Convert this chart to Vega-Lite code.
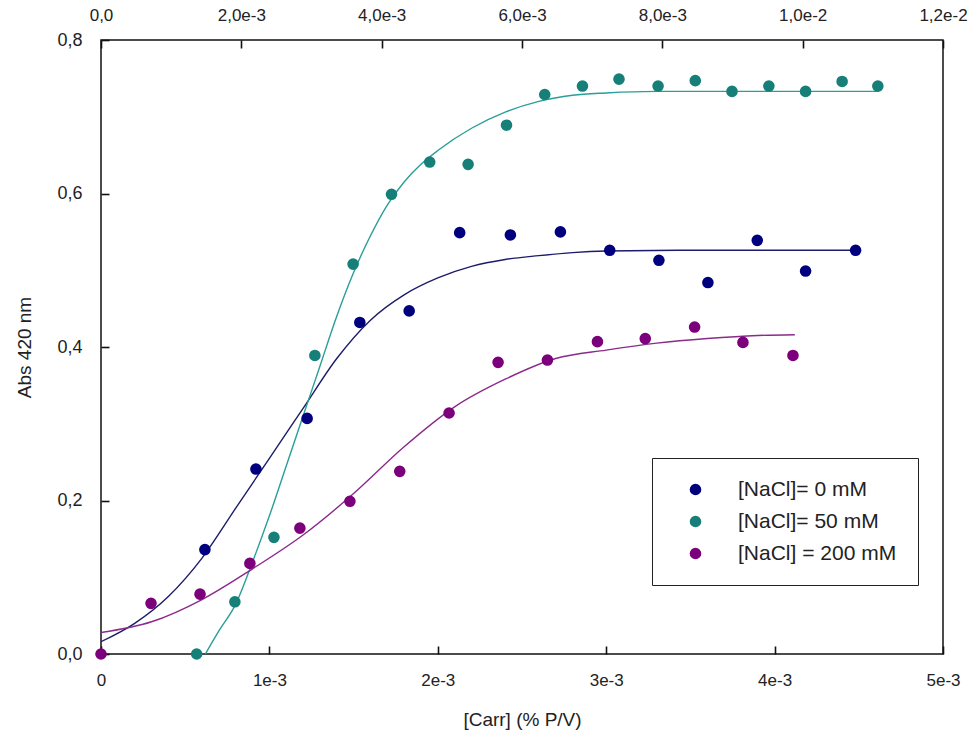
{
  "$schema": "https://vega.github.io/schema/vega-lite/v6.json",
  "width": 842,
  "height": 614,
  "autosize": {"type": "none"},
  "padding": {"left": 101, "top": 40, "right": 30, "bottom": 95},
  "background": "white",
  "config": {
    "view": {"stroke": "#111", "strokeWidth": 1.5},
    "axis": {
      "grid": false,
      "domain": false,
      "ticks": true,
      "offset": -8,
      "tickColor": "#111",
      "tickWidth": 1.6,
      "tickSize": 8,
      "labelFlush": false,
      "labelOverlap": false,
      "labelColor": "#222",
      "titleColor": "#222",
      "labelFont": "Liberation Sans",
      "titleFont": "Liberation Sans",
      "titleFontWeight": "normal",
      "labelFontSize": 17,
      "titleFontSize": 19
    },
    "legend": {
      "labelFont": "Liberation Sans",
      "labelFontSize": 21,
      "labelColor": "#222"
    }
  },
  "datasets": {
    "topaxis": [{"xt": 0}, {"xt": 0.012}],
    "points": [
      {"series": "[NaCl]= 0 mM", "carr": 0.000617, "abs": 0.136},
      {"series": "[NaCl]= 0 mM", "carr": 0.00092, "abs": 0.241},
      {"series": "[NaCl]= 0 mM", "carr": 0.001224, "abs": 0.307},
      {"series": "[NaCl]= 0 mM", "carr": 0.001537, "abs": 0.432},
      {"series": "[NaCl]= 0 mM", "carr": 0.00183, "abs": 0.447},
      {"series": "[NaCl]= 0 mM", "carr": 0.00213, "abs": 0.549},
      {"series": "[NaCl]= 0 mM", "carr": 0.002431, "abs": 0.546},
      {"series": "[NaCl]= 0 mM", "carr": 0.002728, "abs": 0.55},
      {"series": "[NaCl]= 0 mM", "carr": 0.003021, "abs": 0.526},
      {"series": "[NaCl]= 0 mM", "carr": 0.003313, "abs": 0.513},
      {"series": "[NaCl]= 0 mM", "carr": 0.003604, "abs": 0.484},
      {"series": "[NaCl]= 0 mM", "carr": 0.003897, "abs": 0.539},
      {"series": "[NaCl]= 0 mM", "carr": 0.004184, "abs": 0.499},
      {"series": "[NaCl]= 0 mM", "carr": 0.004481, "abs": 0.526},
      {"series": "[NaCl]= 50 mM", "carr": 0.000568, "abs": 0.0},
      {"series": "[NaCl]= 50 mM", "carr": 0.000795, "abs": 0.068},
      {"series": "[NaCl]= 50 mM", "carr": 0.001027, "abs": 0.152},
      {"series": "[NaCl]= 50 mM", "carr": 0.00127, "abs": 0.389},
      {"series": "[NaCl]= 50 mM", "carr": 0.001497, "abs": 0.508},
      {"series": "[NaCl]= 50 mM", "carr": 0.001725, "abs": 0.599},
      {"series": "[NaCl]= 50 mM", "carr": 0.001952, "abs": 0.641},
      {"series": "[NaCl]= 50 mM", "carr": 0.00218, "abs": 0.638},
      {"series": "[NaCl]= 50 mM", "carr": 0.002408, "abs": 0.689},
      {"series": "[NaCl]= 50 mM", "carr": 0.002635, "abs": 0.729},
      {"series": "[NaCl]= 50 mM", "carr": 0.002859, "abs": 0.74},
      {"series": "[NaCl]= 50 mM", "carr": 0.003076, "abs": 0.749},
      {"series": "[NaCl]= 50 mM", "carr": 0.003308, "abs": 0.74},
      {"series": "[NaCl]= 50 mM", "carr": 0.003529, "abs": 0.747},
      {"series": "[NaCl]= 50 mM", "carr": 0.003747, "abs": 0.733},
      {"series": "[NaCl]= 50 mM", "carr": 0.003966, "abs": 0.74},
      {"series": "[NaCl]= 50 mM", "carr": 0.004184, "abs": 0.733},
      {"series": "[NaCl]= 50 mM", "carr": 0.004401, "abs": 0.746},
      {"series": "[NaCl]= 50 mM", "carr": 0.004613, "abs": 0.74},
      {"series": "[NaCl] = 200 mM", "carr": 0.0, "abs": 0.0},
      {"series": "[NaCl] = 200 mM", "carr": 0.000297, "abs": 0.066},
      {"series": "[NaCl] = 200 mM", "carr": 0.000588, "abs": 0.078},
      {"series": "[NaCl] = 200 mM", "carr": 0.000884, "abs": 0.118},
      {"series": "[NaCl] = 200 mM", "carr": 0.001181, "abs": 0.164},
      {"series": "[NaCl] = 200 mM", "carr": 0.001478, "abs": 0.199},
      {"series": "[NaCl] = 200 mM", "carr": 0.001774, "abs": 0.238},
      {"series": "[NaCl] = 200 mM", "carr": 0.002067, "abs": 0.314},
      {"series": "[NaCl] = 200 mM", "carr": 0.002358, "abs": 0.38},
      {"series": "[NaCl] = 200 mM", "carr": 0.002651, "abs": 0.383},
      {"series": "[NaCl] = 200 mM", "carr": 0.002948, "abs": 0.407},
      {"series": "[NaCl] = 200 mM", "carr": 0.003232, "abs": 0.411},
      {"series": "[NaCl] = 200 mM", "carr": 0.003525, "abs": 0.426},
      {"series": "[NaCl] = 200 mM", "carr": 0.003812, "abs": 0.406},
      {"series": "[NaCl] = 200 mM", "carr": 0.004109, "abs": 0.389}
    ],
    "curves": [
      {"fit": "fit 0 mM", "carr": 0.0, "abs": 0.016},
      {"fit": "fit 0 mM", "carr": 0.0002, "abs": 0.04},
      {"fit": "fit 0 mM", "carr": 0.0004, "abs": 0.075},
      {"fit": "fit 0 mM", "carr": 0.0006, "abs": 0.125},
      {"fit": "fit 0 mM", "carr": 0.0008, "abs": 0.19},
      {"fit": "fit 0 mM", "carr": 0.001, "abs": 0.255},
      {"fit": "fit 0 mM", "carr": 0.0012, "abs": 0.32},
      {"fit": "fit 0 mM", "carr": 0.0014, "abs": 0.385},
      {"fit": "fit 0 mM", "carr": 0.0016, "abs": 0.435},
      {"fit": "fit 0 mM", "carr": 0.0018, "abs": 0.468},
      {"fit": "fit 0 mM", "carr": 0.002, "abs": 0.49},
      {"fit": "fit 0 mM", "carr": 0.0022, "abs": 0.505},
      {"fit": "fit 0 mM", "carr": 0.0024, "abs": 0.514},
      {"fit": "fit 0 mM", "carr": 0.0026, "abs": 0.519},
      {"fit": "fit 0 mM", "carr": 0.0028, "abs": 0.523},
      {"fit": "fit 0 mM", "carr": 0.003, "abs": 0.525},
      {"fit": "fit 0 mM", "carr": 0.0035, "abs": 0.526},
      {"fit": "fit 0 mM", "carr": 0.004, "abs": 0.526},
      {"fit": "fit 0 mM", "carr": 0.0045, "abs": 0.526},
      {"fit": "fit 50 mM", "carr": 0.00062, "abs": 0.0},
      {"fit": "fit 50 mM", "carr": 0.0007, "abs": 0.03},
      {"fit": "fit 50 mM", "carr": 0.0008, "abs": 0.065},
      {"fit": "fit 50 mM", "carr": 0.0009, "abs": 0.12},
      {"fit": "fit 50 mM", "carr": 0.001, "abs": 0.18},
      {"fit": "fit 50 mM", "carr": 0.0011, "abs": 0.245},
      {"fit": "fit 50 mM", "carr": 0.0012, "abs": 0.31},
      {"fit": "fit 50 mM", "carr": 0.0013, "abs": 0.375},
      {"fit": "fit 50 mM", "carr": 0.0014, "abs": 0.44},
      {"fit": "fit 50 mM", "carr": 0.0015, "abs": 0.497},
      {"fit": "fit 50 mM", "carr": 0.0016, "abs": 0.545},
      {"fit": "fit 50 mM", "carr": 0.0017, "abs": 0.585},
      {"fit": "fit 50 mM", "carr": 0.0018, "abs": 0.615},
      {"fit": "fit 50 mM", "carr": 0.0019, "abs": 0.638},
      {"fit": "fit 50 mM", "carr": 0.002, "abs": 0.656},
      {"fit": "fit 50 mM", "carr": 0.0022, "abs": 0.685},
      {"fit": "fit 50 mM", "carr": 0.0024, "abs": 0.706},
      {"fit": "fit 50 mM", "carr": 0.0026, "abs": 0.72},
      {"fit": "fit 50 mM", "carr": 0.0028, "abs": 0.728},
      {"fit": "fit 50 mM", "carr": 0.003, "abs": 0.731},
      {"fit": "fit 50 mM", "carr": 0.0033, "abs": 0.733},
      {"fit": "fit 50 mM", "carr": 0.0036, "abs": 0.733},
      {"fit": "fit 50 mM", "carr": 0.004, "abs": 0.733},
      {"fit": "fit 50 mM", "carr": 0.00462, "abs": 0.733},
      {"fit": "fit 200 mM", "carr": 0.0, "abs": 0.028},
      {"fit": "fit 200 mM", "carr": 0.0003, "abs": 0.042},
      {"fit": "fit 200 mM", "carr": 0.0006, "abs": 0.071},
      {"fit": "fit 200 mM", "carr": 0.0009, "abs": 0.111},
      {"fit": "fit 200 mM", "carr": 0.0012, "abs": 0.155},
      {"fit": "fit 200 mM", "carr": 0.0015, "abs": 0.209},
      {"fit": "fit 200 mM", "carr": 0.0018, "abs": 0.27},
      {"fit": "fit 200 mM", "carr": 0.0021, "abs": 0.322},
      {"fit": "fit 200 mM", "carr": 0.0024, "abs": 0.358},
      {"fit": "fit 200 mM", "carr": 0.0027, "abs": 0.385},
      {"fit": "fit 200 mM", "carr": 0.003, "abs": 0.396},
      {"fit": "fit 200 mM", "carr": 0.0033, "abs": 0.405},
      {"fit": "fit 200 mM", "carr": 0.0036, "abs": 0.411},
      {"fit": "fit 200 mM", "carr": 0.0039, "abs": 0.415},
      {"fit": "fit 200 mM", "carr": 0.00412, "abs": 0.416}
    ]
  },
  "layer": [
    {
      "data": {"name": "topaxis"},
      "mark": {"type": "point", "opacity": 0},
      "encoding": {
        "x": {
          "field": "xt",
          "type": "quantitative",
          "scale": {"domain": [0, 0.012], "nice": false, "zero": false},
          "axis": {
            "orient": "top",
            "title": null,
            "values": [0, 0.002, 0.004, 0.006, 0.008, 0.01, 0.012],
            "labelPadding": 16,
            "labelExpr": "datum.value == 0 ? '0,0' : (datum.value < 0.0099 ? replace(format(datum.value * 1000, '.1f'), '.', ',') + 'e-3' : replace(format(datum.value * 100, '.1f'), '.', ',') + 'e-2')"
          }
        }
      }
    },
    {
      "data": {"name": "curves"},
      "mark": {"type": "line", "interpolate": "monotone", "strokeWidth": 1.4, "clip": true},
      "encoding": {
        "x": {
          "field": "carr",
          "type": "quantitative",
          "scale": {"domain": [0, 0.005], "nice": false, "zero": false},
          "axis": {
            "orient": "bottom",
            "title": "[Carr] (% P/V)",
            "values": [0, 0.001, 0.002, 0.003, 0.004, 0.005],
            "labelPadding": 18,
            "titlePadding": 22,
            "labelExpr": "datum.value == 0 ? '0' : format(datum.value * 1000, '.0f') + 'e-3'"
          }
        },
        "y": {
          "field": "abs",
          "type": "quantitative",
          "scale": {"domain": [0, 0.8], "nice": false, "zero": false},
          "axis": {
            "title": "Abs 420 nm",
            "values": [0, 0.2, 0.4, 0.6, 0.8],
            "labelPadding": 19,
            "titlePadding": 22,
            "labelFontSize": 18,
            "labelExpr": "replace(format(datum.value, '.1f'), '.', ',')"
          }
        },
        "color": {
          "field": "fit",
          "type": "nominal",
          "scale": {
            "domain": ["fit 0 mM", "fit 50 mM", "fit 200 mM"],
            "range": ["#1c1c6a", "#2a9e98", "#8a2a8a"]
          },
          "legend": null
        }
      }
    },
    {
      "data": {"name": "points"},
      "mark": {"type": "point", "shape": "circle", "filled": true, "size": 135, "opacity": 1},
      "encoding": {
        "x": {
          "field": "carr",
          "type": "quantitative",
          "scale": {"domain": [0, 0.005], "nice": false, "zero": false},
          "axis": null
        },
        "y": {"field": "abs", "type": "quantitative"},
        "color": {
          "field": "series",
          "type": "nominal",
          "scale": {
            "domain": ["[NaCl]= 0 mM", "[NaCl]= 50 mM", "[NaCl] = 200 mM"],
            "range": ["#00007e", "#168078", "#7c007c"]
          },
          "legend": {
            "title": null,
            "orient": "none",
            "legendX": 551,
            "legendY": 418,
            "strokeColor": "#222",
            "fillColor": "white",
            "padding": 21,
            "symbolOffset": 12,
            "symbolSize": 135,
            "symbolType": "circle",
            "symbolStrokeWidth": 0,
            "labelOffset": 32,
            "rowPadding": 10
          }
        }
      }
    }
  ],
  "resolve": {
    "scale": {"x": "independent", "color": "independent"},
    "axis": {"x": "independent"}
  }
}
